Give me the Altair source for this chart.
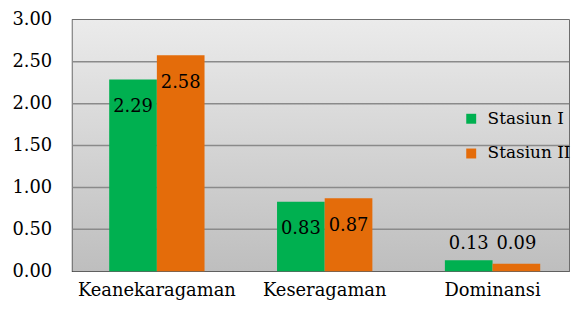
import altair as alt
import pandas as pd

categories = ["Keanekaragaman", "Keseragaman", "Dominansi"]
series = ["Stasiun I", "Stasiun II"]
stasiun_1 = [2.29, 0.83, 0.13]
stasiun_2 = [2.58, 0.87, 0.09]
y_ticks = [0.0, 0.5, 1.0, 1.5, 2.0, 2.5, 3.0]
grid_values = [0.5, 1.0, 1.5, 2.0, 2.5]
colors = ["#00B050", "#E46C0A"]

rows = []
for c, a, b in zip(categories, stasiun_1, stasiun_2):
    rows.append({"kategori": c, "stasiun": series[0], "nilai": a})
    rows.append({"kategori": c, "stasiun": series[1], "nilai": b})
df = pd.DataFrame(rows)
grid_df = pd.DataFrame({"g": grid_values})

W, H = 500, 253
FONT = "DejaVu Serif"
FS = 18

yscale = alt.Scale(domain=[0, 3], nice=False)

bg = alt.Chart(pd.DataFrame({"a": [0]})).mark_rect(
    color=alt.LinearGradient(
        gradient="linear",
        stops=[alt.GradientStop(color="#ebebeb", offset=0),
               alt.GradientStop(color="#bebebe", offset=1)],
        x1=0, x2=0, y1=0, y2=1,
    )
).encode(x=alt.value(0), x2=alt.value(W), y=alt.value(0), y2=alt.value(H))

grid = alt.Chart(grid_df).mark_rule(color="#8a8a8a", strokeWidth=1.5).encode(
    y=alt.Y("g:Q", scale=yscale)
)

xenc = alt.X(
    "kategori:N", sort=categories, title=None,
    scale=alt.Scale(paddingInner=0.432, paddingOuter=0.195, align=0.56),
    axis=alt.Axis(labelAngle=0, domain=False, ticks=False, labelPadding=11,
                  labelFont=FONT, labelFontSize=FS, labelColor="#000"),
)
xoff = alt.XOffset("stasiun:N", sort=series, scale=alt.Scale(paddingInner=0, paddingOuter=0))
yenc = alt.Y(
    "nilai:Q", scale=yscale, title=None,
    axis=alt.Axis(values=y_ticks, format=".2f", grid=False, domain=False, ticks=False,
                  labelPadding=21, minExtent=65, labelFont=FONT, labelFontSize=FS,
                  labelColor="#000"),
)

bars = alt.Chart(df).mark_bar(stroke=None).encode(
    x=xenc, xOffset=xoff, y=yenc,
    color=alt.Color(
        "stasiun:N", sort=series,
        scale=alt.Scale(domain=series, range=colors),
        legend=alt.Legend(title=None, orient="none", legendX=393, legendY=91,
                          symbolType="square", symbolSize=100, symbolStrokeWidth=0,
                          labelFont=FONT, labelFontSize=17, labelColor="#000",
                          labelOffset=8, rowPadding=17, padding=0),
    ),
)

labels_in = alt.Chart(df).transform_filter("datum.nilai >= 0.3").mark_text(
    baseline="middle", dy=28, font=FONT, fontSize=FS, color="#000"
).encode(x=alt.X("kategori:N", sort=categories), xOffset=xoff,
         y=alt.Y("nilai:Q", scale=yscale), text=alt.Text("nilai:Q", format=".2f"))

labels_out = alt.Chart(df).transform_filter("datum.nilai < 0.3").mark_text(
    baseline="bottom", font=FONT, fontSize=FS, color="#000"
).encode(x=alt.X("kategori:N", sort=categories), xOffset=xoff,
         y=alt.value(H - 18), text=alt.Text("nilai:Q", format=".2f"))

chart = alt.layer(bg, grid, bars, labels_in, labels_out).properties(
    width=W, height=H, padding={"left": 0, "top": 2, "right": 0, "bottom": 0},
    background="white",
).configure_view(stroke="#404040", strokeWidth=1.5)

chart.save("out.html", embed_options={"renderer": "svg", "actions": False})
